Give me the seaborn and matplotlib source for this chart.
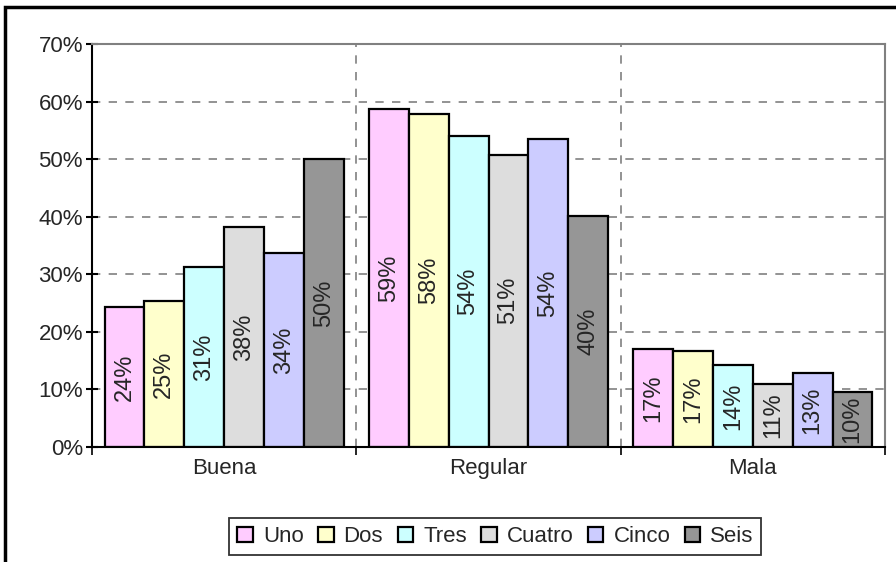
import matplotlib
matplotlib.use("Agg")
import matplotlib.pyplot as plt
from matplotlib.patches import Rectangle
from matplotlib.ticker import PercentFormatter, FixedLocator, NullFormatter
import pandas as pd
import seaborn as sns

# Values (percent)
categories = ['Buena', 'Regular', 'Mala']
series = ['Uno', 'Dos', 'Tres', 'Cuatro', 'Cinco', 'Seis']
uno = [24.3, 58.7, 17.0]
dos = [25.3, 57.8, 16.6]
tres = [31.3, 54.0, 14.3]
cuatro = [38.2, 50.8, 11.0]
cinco = [33.7, 53.5, 12.9]
seis = [50.0, 40.1, 9.6]
colors = ['#FFCCFF', '#FFFFCC', '#CCFFFF', '#DDDDDD', '#CCCCFF', '#969696']

values = [uno, dos, tres, cuatro, cinco, seis]
rows = []
for name, vals in zip(series, values):
    for cat, v in zip(categories, vals):
        rows.append({'cat': cat, 'serie': name, 'pct': v})
df = pd.DataFrame(rows)

sns.set_style('white')
plt.rcParams['font.family'] = ['Liberation Sans', 'DejaVu Sans']

fig = plt.figure(figsize=(8.96, 5.62), dpi=100)
ax = fig.add_axes([92 / 896, 1 - 447 / 562, (885 - 92) / 896, (447 - 44) / 562])

sns.barplot(data=df, x='cat', y='pct', hue='serie', order=categories,
            hue_order=series, palette=colors, width=0.905, ax=ax,
            edgecolor='black', linewidth=1.6, saturation=1, legend=True)

# data labels, rotated inside each bar
for cont in ax.containers:
    ax.bar_label(cont, labels=[f'{round(b.get_height())}%' for b in cont],
                 label_type='center', rotation=90, fontsize=17)

ax.set_ylim(0, 70)
ax.set_xlim(-0.5, 2.5)
ax.yaxis.set_major_locator(FixedLocator(range(0, 71, 10)))
ax.yaxis.set_major_formatter(PercentFormatter(decimals=0))
ax.set_xlabel('')
ax.set_ylabel('')

# category labels centred, ticks on boundaries
ax.xaxis.set_major_locator(FixedLocator([-0.5, 0.5, 1.5, 2.5]))
ax.xaxis.set_major_formatter(NullFormatter())
ax.xaxis.set_minor_locator(FixedLocator([0, 1, 2]))
ax.set_xticklabels(categories, minor=True)
ax.tick_params(axis='x', which='minor', length=0, pad=8, labelsize=16)
ax.tick_params(axis='x', which='major', direction='out', length=6, width=1.2, color='black')
ax.tick_params(axis='y', direction='inout', length=9, width=1.5, color='black',
               labelsize=16, pad=2)
ax.xaxis.set_ticks_position('bottom')
ax.yaxis.set_ticks_position('left')

# dashed gridlines
for y in range(10, 70, 10):
    ax.axhline(y, color='#808080', lw=1.2, ls=(0, (5, 5)), zorder=0)
for x in [0.5, 1.5]:
    ax.axvline(x, color='#808080', lw=1.2, ls=(0, (5, 5)), zorder=0)

for side in ['left', 'bottom']:
    ax.spines[side].set_color('black')
    ax.spines[side].set_linewidth(1.5)
for side in ['top', 'right']:
    ax.spines[side].set_color('#808080')
    ax.spines[side].set_linewidth(1.5)

handles, labels = ax.get_legend_handles_labels()
ax.legend_.remove()
leg = fig.legend(handles, labels, loc='center', bbox_to_anchor=(0.553, 0.045),
                 ncol=6, frameon=True, fancybox=False, edgecolor='black',
                 fontsize=16, handlelength=0.7, handleheight=0.7,
                 handletextpad=0.45, columnspacing=0.65, borderpad=0.35,
                 borderaxespad=0)
leg.get_frame().set_linewidth(1.3)

# outer chart frame (cut off at right and bottom in the reference)
fig.patches.append(Rectangle((5 / 896, -0.05), 1.2, 1 - 7 / 562 + 0.05,
                             transform=fig.transFigure, fill=False,
                             edgecolor='black', lw=2.5))

fig.savefig('out.png', dpi=100)
